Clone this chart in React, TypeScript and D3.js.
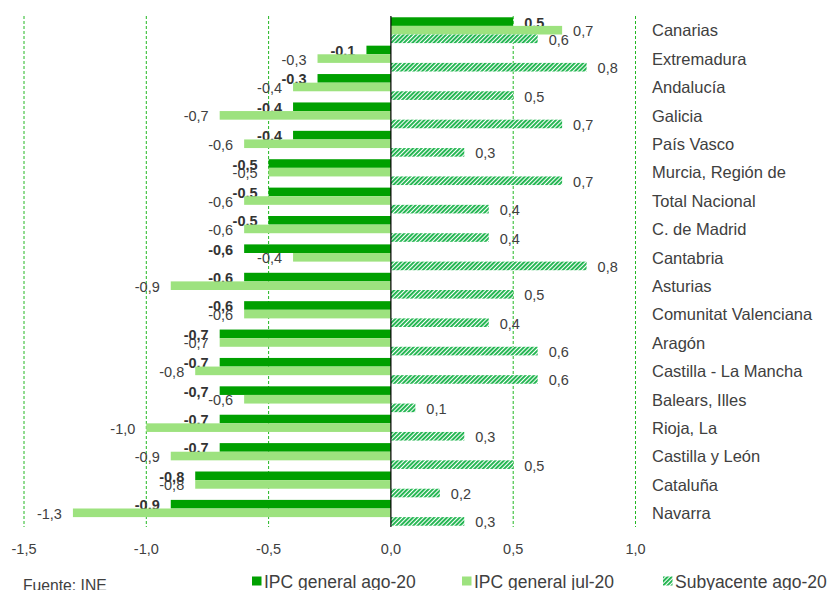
import React from "react";
import * as d3 from "d3";

const categories = [
  "Canarias", "Extremadura", "Andalucía", "Galicia", "País Vasco",
  "Murcia, Región de", "Total Nacional", "C. de Madrid", "Cantabria", "Asturias",
  "Comunitat Valenciana", "Aragón", "Castilla - La Mancha", "Balears, Illes",
  "Rioja, La", "Castilla y León", "Cataluña", "Navarra",
];
const ipcAgo = [0.5, -0.1, -0.3, -0.4, -0.4, -0.5, -0.5, -0.5, -0.6, -0.6, -0.6, -0.7, -0.7, -0.7, -0.7, -0.7, -0.8, -0.9];
const ipcJul = [0.7, -0.3, -0.4, -0.7, -0.6, -0.5, -0.6, -0.6, -0.4, -0.9, -0.6, -0.7, -0.8, -0.6, -1.0, -0.9, -0.8, -1.3];
const subAgo = [0.6, 0.8, 0.5, 0.7, 0.3, 0.7, 0.4, 0.4, 0.8, 0.5, 0.4, 0.6, 0.6, 0.1, 0.3, 0.5, 0.2, 0.3];
const xTicks = [-1.5, -1.0, -0.5, 0.0, 0.5, 1.0];
const seriesKeys = ["ago", "jul", "sub"];
const seriesNames = ["IPC general ago-20", "IPC general jul-20", "Subyacente ago-20"];
const source = "Fuente: INE";

const W = 829, H = 590;
const FONT = "'Liberation Sans', Arial, sans-serif";
const DARK = "#00a000";
const LIGHT = "#9de27f";
const HATCH = "#1db44c";
const GRID = "#22b822";
const TEXT = "#404040";

const fmt = (v: number) => d3.format(".1f")(v).replace(".", ",").replace("−", "-");

export default function App() {
  const x = d3.scaleLinear().domain([-1.5, 1.0]).range([24, 635.5]);
  const y = d3.scaleBand<string>().domain(categories).range([16, 527]).paddingInner(0.09).paddingOuter(0.045);
  const sub = d3.scaleBand<string>().domain(seriesKeys).range([0, y.bandwidth()]);
  const x0 = x(0);
  const values = [ipcAgo, ipcJul, subAgo];
  const fills = [DARK, LIGHT, "url(#hatch)"];

  return (
    <svg width={W} height={H} style={{ position: "absolute", left: 0, top: 0, background: "#fff" }} fontFamily={FONT}>
      <defs>
        <pattern id="hatch" patternUnits="userSpaceOnUse" width={3} height={3} patternTransform="rotate(45)">
          <rect x={0} y={0} width={3} height={3} fill="#fff" />
          <rect x={0} y={0} width={1.9} height={3} fill={HATCH} />
        </pattern>
      </defs>
      {xTicks.filter((t) => t !== 0).map((t) => (
        <line key={t} x1={x(t)} x2={x(t)} y1={16} y2={527} stroke={GRID} strokeWidth={1} strokeDasharray="3,2" />
      ))}
      {categories.map((c, i) => (
        <g key={c}>
          {values.map((arr, s) => {
            const v = arr[i];
            const yy = (y(c) as number) + (sub(seriesKeys[s]) as number);
            const h = sub.bandwidth();
            const xs = Math.min(x(v), x0);
            const w = Math.abs(x(v) - x0);
            const lx = v >= 0 ? x(v) + 11 : x(v) - 11;
            return (
              <g key={s}>
                <rect x={xs} y={yy} width={w} height={h} fill={fills[s]} />
                <text
                  x={lx}
                  y={yy + h / 2 + 1}
                  dominantBaseline="central"
                  textAnchor={v >= 0 ? "start" : "end"}
                  fontSize={14.5}
                  fontWeight={s === 0 ? "bold" : "normal"}
                  fill={s === 0 ? "#333" : TEXT}
                >
                  {fmt(v)}
                </text>
              </g>
            );
          })}
          <text x={652} y={(y(c) as number) + y.step() / 2 - 1} dominantBaseline="central" fontSize={16.5} fill={TEXT}>
            {c}
          </text>
        </g>
      ))}
      <line x1={x0} x2={x0} y1={16} y2={527} stroke="#000" strokeWidth={1.2} />
      {xTicks.map((t) => (
        <text key={t} x={x(t)} y={553.5} textAnchor="middle" fontSize={14.5} fill={TEXT}>
          {fmt(t)}
        </text>
      ))}
      <text x={23} y={591} fontSize={15.7} fill={TEXT}>{source}</text>
      {seriesNames.map((n, s) => {
        const mx = [252, 462, 663][s];
        return (
          <g key={n}>
            <rect x={mx} y={576.5} width={9.5} height={9} fill={fills[s]} />
            <text x={mx + 12} y={588} fontSize={17.5} fill={TEXT}>{n}</text>
          </g>
        );
      })}
    </svg>
  );
}
